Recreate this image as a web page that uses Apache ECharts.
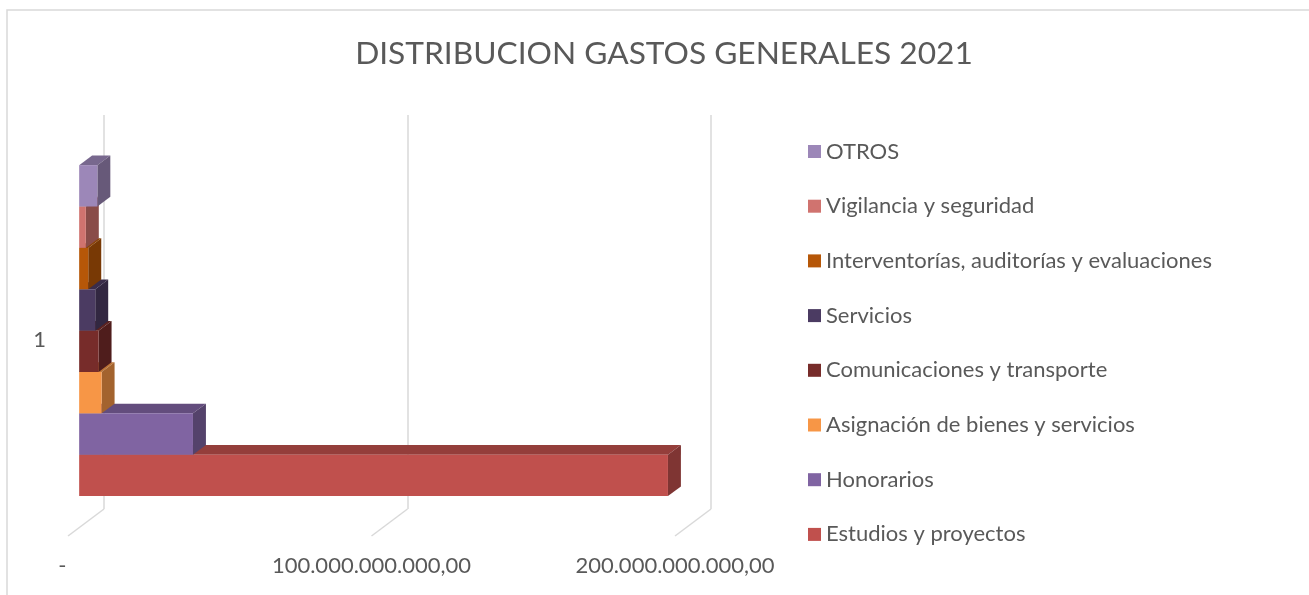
<!DOCTYPE html>
<html>
<head>
<meta charset="utf-8">
<script src="https://cdn.jsdelivr.net/npm/echarts@6/dist/echarts.min.js"></script>
<style>
  html, body { margin: 0; padding: 0; background: #fff; }
  #chart { width: 1309px; height: 595px; }
</style>
</head>
<body>
<div id="chart"></div>
<script>
const categories = ['1']
const seriesNames = [
  'Estudios y proyectos',
  'Honorarios',
  'Asignación de bienes y servicios',
  'Comunicaciones y transporte',
  'Servicios',
  'Interventorías, auditorías y evaluaciones',
  'Vigilancia y seguridad',
  'OTROS'
]
const seriesValues = [194e9, 37.5e9, 7.4e9, 6.4e9, 5.3e9, 3.0e9, 2.2e9, 6.0e9]
const seriesColors = ['#C0504D', '#8064A2', '#F79646', '#772C2A', '#4B3B62', '#B65708', '#D0736F', '#9C87B8']
const xTicks = [0, 1e11, 2e11]

const FONT = 'Lato, "Open Sans", sans-serif'
const TEXT = '#595959'
// depth of the fake 3d box (back wall -> front edge)
const DEPTH = [-36, 27]
const FRONT = 0.69
const BACK = 0.33

function shade(hex, k) {
  const n = parseInt(hex.slice(1), 16)
  const r = Math.round(((n >> 16) & 255) * k)
  const g = Math.round(((n >> 8) & 255) * k)
  const b = Math.round((n & 255) * k)
  return `rgb(${r},${g},${b})`
}

function fmt(v) {
  if (v === 0) return '-\u00a0\u00a0'
  const s = Math.round(v).toString().replace(/\B(?=(\d{3})+(?!\d))/g, '.')
  return s + ',00'
}

function renderBar(params, api) {
  const i = params.seriesIndex
  const color = seriesColors[i]
  const start = api.coord([0, 0])
  const end = api.coord([api.value(0), 0])
  const band = api.size([0, 1])[1]
  const total = band * 0.84
  const h = total / seriesNames.length
  const yb = start[1] + total / 2 - i * h
  const yt = yb - h
  const fx = DEPTH[0] * FRONT, fy = DEPTH[1] * FRONT
  const bx = DEPTH[0] * BACK, by = DEPTH[1] * BACK
  const x0 = start[0], x1 = end[0]
  return {
    type: 'group',
    children: [
      {
        type: 'polygon',
        shape: { points: [[x0 + fx, yt + fy], [x1 + fx, yt + fy], [x1 + bx, yt + by], [x0 + bx, yt + by]] },
        style: { fill: shade(color, 0.77) }
      },
      {
        type: 'polygon',
        shape: { points: [[x1 + fx, yt + fy], [x1 + bx, yt + by], [x1 + bx, yb + by], [x1 + fx, yb + fy]] },
        style: { fill: shade(color, 0.66) }
      },
      {
        type: 'rect',
        shape: { x: x0 + fx, y: yt + fy, width: x1 - x0, height: h },
        style: { fill: color }
      }
    ]
  }
}

function renderFloor(params, api) {
  const x = api.coord([api.value(0), 0])[0]
  const bottom = params.coordSys.y + params.coordSys.height
  return {
    type: 'line',
    shape: { x1: x, y1: bottom, x2: x + DEPTH[0], y2: bottom + DEPTH[1] },
    style: { stroke: '#D9D9D9', lineWidth: 1.5 }
  }
}

const chart = echarts.init(document.getElementById('chart'))

const series = seriesNames.map((name, i) => ({
  name,
  type: 'custom',
  renderItem: renderBar,
  itemStyle: { color: seriesColors[i] },
  encode: { x: 0, y: 1 },
  data: [[seriesValues[i], 0]],
  z: 3
}))
series.push({
  name: 'floor',
  type: 'custom',
  renderItem: renderFloor,
  silent: true,
  encode: { x: 0 },
  data: xTicks.map(v => [v]),
  z: 1
})

chart.setOption({
  backgroundColor: '#fff',
  animation: false,
  textStyle: { fontFamily: FONT },
  graphic: [{
    type: 'rect',
    shape: { x: 7, y: 10, width: 1400, height: 700 },
    style: { fill: 'none', stroke: '#D9D9D9', lineWidth: 1.5 },
    silent: true
  }],
  title: {
    text: 'DISTRIBUCION GASTOS GENERALES 2021',
    left: 659,
    top: 33,
    textAlign: 'center',
    textStyle: { fontFamily: FONT, fontSize: 31.7, fontWeight: 'normal', color: TEXT }
  },
  legend: {
    orient: 'vertical',
    left: 803,
    top: 135.5,
    itemWidth: 13,
    itemHeight: 13,
    itemGap: 32.7,
    icon: 'rect',
    data: seriesNames.slice().reverse(),
    textStyle: { fontFamily: FONT, fontSize: 22, color: TEXT }
  },
  grid: { left: 104, right: 598, top: 115, bottom: 86 },
  xAxis: {
    type: 'value',
    min: 0,
    max: 2e11,
    interval: 1e11,
    axisLine: { show: false },
    axisTick: { show: false },
    splitLine: { lineStyle: { color: '#D9D9D9', width: 1.5 } },
    axisLabel: {
      formatter: fmt,
      margin: 46,
      padding: [0, 72, 0, 0],
      fontFamily: FONT,
      fontSize: 22,
      color: TEXT
    }
  },
  yAxis: {
    type: 'category',
    data: categories,
    axisLine: { show: false },
    axisTick: { show: false },
    axisLabel: {
      margin: 58,
      verticalAlign: 'top',
      lineHeight: 56,
      fontFamily: FONT,
      fontSize: 22,
      color: TEXT
    }
  },
  series
})
</script>
</body>
</html>
